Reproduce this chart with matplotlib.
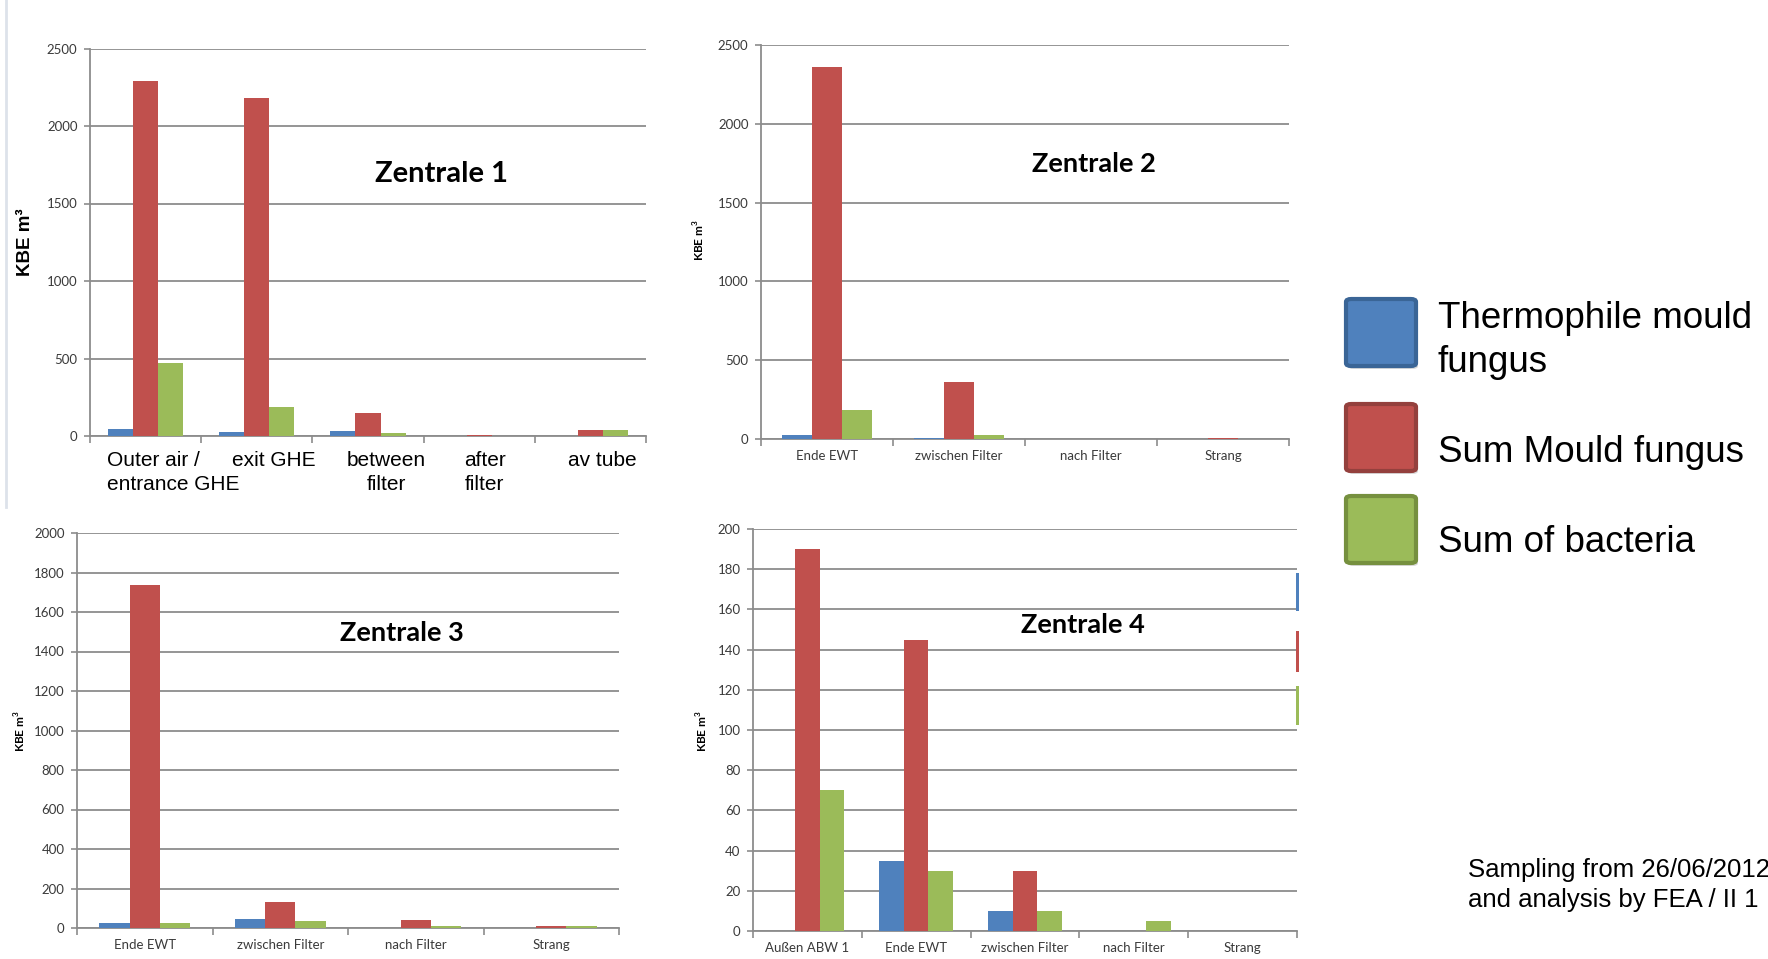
import matplotlib
matplotlib.use("Agg")
import matplotlib.pyplot as plt
from matplotlib.patches import FancyBboxPatch, Rectangle
from matplotlib.lines import Line2D
import matplotlib.transforms as mtransforms
import numpy as np

# ---- data -------------------------------------------------------------
series_names = ["Thermophile mould\nfungus", "Sum Mould fungus", "Sum of bacteria"]
series_colors = ["#4F81BD", "#C0504D", "#9BBB59"]
series_edges = ["#3A6596", "#94403D", "#76903F"]

z1_categories = ["Outer air /\nentrance GHE", "exit GHE", "between\nfilter", "after\nfilter", "av tube"]
z1_thermophile = [48, 24, 34, 0, 0]
z1_mould = [2290, 2180, 147, 6, 39]
z1_bacteria = [470, 190, 19, 0, 39]

z2_categories = ["Ende EWT", "zwischen Filter", "nach Filter", "Strang"]
z2_thermophile = [25, 4, 0, 0]
z2_mould = [2358, 360, 0, 5]
z2_bacteria = [185, 25, 0, 3]

z3_categories = ["Ende EWT", "zwischen Filter", "nach Filter", "Strang"]
z3_thermophile = [25, 46, 0, 0]
z3_mould = [1738, 134, 39, 10]
z3_bacteria = [25, 34, 10, 10]

z4_categories = ["Außen ABW 1", "Ende EWT", "zwischen Filter", "nach Filter", "Strang"]
z4_thermophile = [0, 35, 10, 0, 0]
z4_mould = [190, 145, 30, 0, 0]
z4_bacteria = [70, 30, 10, 5, 0]

z1_yticks = [0, 500, 1000, 1500, 2000, 2500]
z2_yticks = [0, 500, 1000, 1500, 2000, 2500]
z3_yticks = [0, 200, 400, 600, 800, 1000, 1200, 1400, 1600, 1800, 2000]
z4_yticks = [0, 20, 40, 60, 80, 100, 120, 140, 160, 180, 200]

titles = ["Zentrale 1", "Zentrale 2", "Zentrale 3", "Zentrale 4"]
y_label = "KBE m³"
y_label_small = r"KBE m$^{\mathbf{3}}$"
note_lines = ["Sampling from 26/06/2012", "and analysis by FEA / II 1"]

# ---- figure -----------------------------------------------------------
W, H = 1768, 959
fig = plt.figure(figsize=(W / 100, H / 100), dpi=100)
fig.patch.set_facecolor("white")
plt.rcParams["mathtext.fontset"] = "custom"
plt.rcParams["mathtext.bf"] = "Lato:bold"
plt.rcParams["mathtext.rm"] = "Lato:bold"

GRID = "#8C8C8C"
TICKTXT = "#3A3A3A"
CAL = ["Lato", "DejaVu Sans"]
ARI = ["Liberation Sans", "DejaVu Sans"]


def fx(x):
    return x / W


def fy(y):
    return 1 - y / H


def rect_px(left, right, top, bottom):
    return [fx(left), fy(bottom), (right - left) / W, (bottom - top) / H]


def draw_panel(rect, cats, series, yticks, title, title_xy, title_size,
               show_tick_labels=True):
    ax = fig.add_axes(rect)
    n = len(cats)
    x = np.arange(n)
    bw = 0.225
    for i, (vals, col) in enumerate(zip(series, series_colors)):
        ax.bar(x + (i - 1) * bw, vals, width=bw, color=col, linewidth=0, zorder=3)
    ax.set_xlim(-0.5, n - 0.5)
    ax.set_ylim(yticks[0], yticks[-1])
    ax.set_yticks(yticks)
    ax.set_yticklabels([str(t) for t in yticks], fontfamily=CAL, fontsize=9.5,
                       color=TICKTXT)
    ax.yaxis.grid(True, color=GRID, linewidth=1.3, zorder=0)
    ax.set_axisbelow(True)
    for s in ["top", "right"]:
        ax.spines[s].set_visible(False)
    for s in ["left", "bottom"]:
        ax.spines[s].set_color(GRID)
        ax.spines[s].set_linewidth(1.3)
    ax.tick_params(axis="y", length=4, width=1.2, color=GRID, pad=5)
    ax.set_xticks(np.arange(-0.5, n, 1.0), minor=True)
    ax.tick_params(axis="x", which="minor", length=5, width=1.2, color=GRID)
    ax.set_xticks(x)
    if show_tick_labels:
        ax.set_xticklabels(cats, fontfamily=CAL, fontsize=9.5, color=TICKTXT)
    else:
        ax.set_xticklabels([])
    ax.tick_params(axis="x", which="major", length=0, pad=8)
    ax.text(title_xy[0], title_xy[1], title, transform=ax.transAxes,
            ha="center", va="center", fontfamily=CAL, fontweight="bold",
            fontsize=title_size, color="black")
    return ax


# Zentrale 1
ax1 = draw_panel(rect_px(90, 646, 48.5, 436),
                 z1_categories, [z1_thermophile, z1_mould, z1_bacteria],
                 z1_yticks, titles[0], (0.633, 0.675), 21, show_tick_labels=False)
lbl_tf = mtransforms.blended_transform_factory(ax1.transData, fig.transFigure)
z1_label_x = [-0.348, 1.153, 2.167, 2.867, 4.104]
z1_label_ha = ["left", "center", "center", "left", "center"]
for cx, ha, txt in zip(z1_label_x, z1_label_ha, z1_categories):
    ax1.text(cx, fy(451), txt, transform=lbl_tf, ha=ha, va="top",
             fontfamily=ARI, fontsize=15, color="black", linespacing=1.3)

# Zentrale 2
draw_panel(rect_px(761, 1289, 45, 439),
           z2_categories, [z2_thermophile, z2_mould, z2_bacteria],
           z2_yticks, titles[1], (0.63, 0.699), 19.5)

# Zentrale 3
draw_panel(rect_px(77, 619, 533, 928),
           z3_categories, [z3_thermophile, z3_mould, z3_bacteria],
           z3_yticks, titles[2], (0.599, 0.748), 19.5)

# Zentrale 4
draw_panel(rect_px(753, 1297, 529, 931),
           z4_categories, [z4_thermophile, z4_mould, z4_bacteria],
           z4_yticks, titles[3], (0.606, 0.762), 19.5)

# y-axis titles
fig.text(fx(25), fy(242), y_label, rotation=90, ha="center", va="center",
         fontfamily=ARI, fontweight="bold", fontsize=13.5)
for (px, py) in [(699, 240), (20, 731), (702, 731)]:
    fig.text(fx(px), fy(py), y_label_small, rotation=90, ha="center", va="center",
             fontfamily=CAL, fontweight="bold", fontsize=8.5)

# slide border on the left
fig.add_artist(Line2D([fx(6), fx(6)], [fy(0), fy(507)], color="#DDE2EA",
                      linewidth=2, transform=fig.transFigure))

# clipped legend edge at the right of Zentrale 4
for (top, bot), col in zip([(573, 611), (631, 672), (686, 725)], series_colors):
    fig.add_artist(Rectangle((fx(1296), fy(bot)), 2.5 / W, (bot - top) / H,
                             facecolor=col, edgecolor="none",
                             transform=fig.transFigure))

# legend
sq_tops = [299, 404, 496]
text_lines = [[(318, "Thermophile mould"), (363, "fungus")],
              [(453, "Sum Mould fungus")],
              [(542, "Sum of bacteria")]]
for top, col, ecol, lines in zip(sq_tops, series_colors, series_edges, text_lines):
    # soft shadow
    fig.add_artist(FancyBboxPatch((fx(1348), fy(top + 70)), 70 / W, 67 / H,
                                  boxstyle="round,pad=0,rounding_size=0.003",
                                  facecolor="#D9D9D9", edgecolor="none",
                                  transform=fig.transFigure))
    fig.add_artist(FancyBboxPatch((fx(1346), fy(top + 67)), 70 / W, 67 / H,
                                  boxstyle="round,pad=0,rounding_size=0.003",
                                  facecolor=col, edgecolor=ecol, linewidth=3,
                                  transform=fig.transFigure))
    for ly, txt in lines:
        fig.text(fx(1438), fy(ly), txt, ha="left", va="center",
                 fontfamily=ARI, fontsize=26.5, color="black")

# sampling note
for ly, txt in zip([870, 900], note_lines):
    fig.text(fx(1468), fy(ly), txt, ha="left", va="center",
             fontfamily=ARI, fontsize=18.5, color="black")

fig.savefig("out.png", dpi=100, facecolor="white")
